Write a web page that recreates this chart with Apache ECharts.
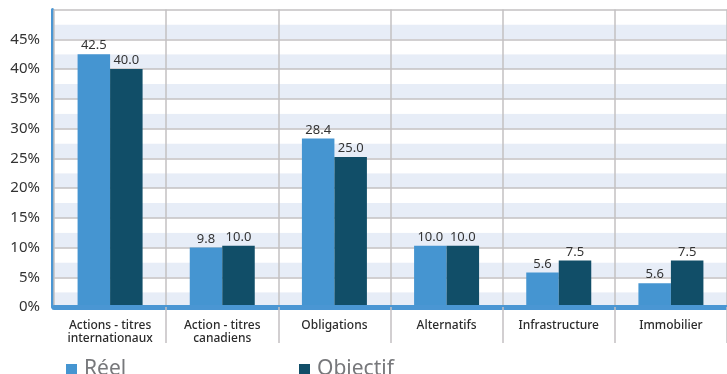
<!DOCTYPE html>
<html><head><meta charset="utf-8">
<script src="https://cdn.jsdelivr.net/npm/echarts@6/dist/echarts.min.js"></script>
<style>html,body{margin:0;padding:0;background:#fff}#c{width:727px;height:374px}</style>
</head><body><div id="c"></div>
<script>
const categories = ['Actions - titres\ninternationaux', 'Action - titres\ncanadiens', 'Obligations', 'Alternatifs', 'Infrastructure', 'Immobilier'];
const reelValues = [42.5, 10.0, 28.3, 10.3, 5.8, 4.0];
const objectifValues = [40.0, 10.3, 25.2, 10.3, 7.8, 7.8];
const reelLabels = ['42.5', '9.8', '28.4', '10.0', '5.6', '5.6'];
const objectifLabels = ['40.0', '10.0', '25.0', '10.0', '7.5', '7.5'];
const seriesNames = ['Réel', 'Objectif'];

const FONT = 'Noto Sans';
const chart = echarts.init(document.getElementById('c'), null, {renderer: 'canvas'});
const grid = '#c3c0c2';
const legendText = {fontSize: 21, color: '#77787b', fontFamily: FONT, padding: [0, 0, 0, 2]};
chart.setOption({
  animation: false,
  textStyle: {fontFamily: FONT},
  grid: {left: 54, right: -3, top: 9.5, bottom: 67, containLabel: false},
  legend: [
    {data: [seriesNames[0]], left: 61, top: 354, itemWidth: 11, itemHeight: 11, icon: 'rect', textStyle: legendText},
    {data: [seriesNames[1]], left: 294, top: 354, itemWidth: 11, itemHeight: 11, icon: 'rect', textStyle: legendText}
  ],
  xAxis: {
    type: 'category', data: categories, z: 3,
    axisLine: {show: true, lineStyle: {color: '#4a96d3', width: 5}},
    axisTick: {show: true, length: 36, lineStyle: {color: grid, width: 1.5},
      interval: function (i) { return i !== 0; }},
    splitLine: {show: true, interval: 0, lineStyle: {color: grid, width: 1.5}},
    axisLabel: {interval: 0, margin: 12, fontSize: 12, color: '#2b2b2b', fontWeight: 500, lineHeight: 13, fontFamily: FONT}
  },
  yAxis: [
    {type: 'value', min: 0, max: 50, interval: 2.5, z: 0, position: 'left',
     axisLine: {show: false}, axisTick: {show: false}, axisLabel: {show: false},
     splitLine: {show: false},
     splitArea: {show: true, areaStyle: {color: ['#e7edf7', '#ffffff']}}},
    {type: 'value', min: 0, max: 50, interval: 5, z: 1, position: 'left', offset: 1.5,
     axisLine: {show: true, lineStyle: {color: '#4a96d3', width: 3}},
     axisTick: {show: false},
     axisLabel: {margin: 12.5, fontSize: 15, color: '#333', fontFamily: FONT,
       formatter: function (v) { return v >= 50 ? '' : v + '%'; }},
     splitLine: {show: true, lineStyle: {color: grid, width: 1.5}}}
  ],
  series: [
    {name: seriesNames[0], type: 'bar', yAxisIndex: 1, data: reelValues, barWidth: 32.5, barGap: '0%',
     itemStyle: {color: '#4595d1'},
     label: {show: true, position: 'top', distance: 2, fontSize: 13, color: '#333', fontFamily: FONT,
       formatter: function (p) { return reelLabels[p.dataIndex]; }}},
    {name: seriesNames[1], type: 'bar', yAxisIndex: 1, data: objectifValues, barWidth: 32.5, barGap: '0%',
     itemStyle: {color: '#114e68'},
     label: {show: true, position: 'top', distance: 2, fontSize: 13, color: '#333', fontFamily: FONT,
       formatter: function (p) { return objectifLabels[p.dataIndex]; }}}
  ]
});
</script></body></html>
